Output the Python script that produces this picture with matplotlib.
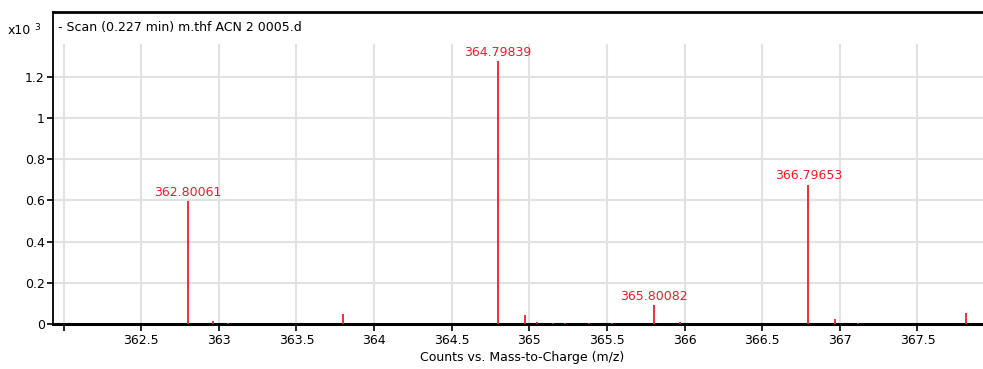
import matplotlib
matplotlib.use("Agg")
import matplotlib.pyplot as plt
import numpy as np

# Peak list (m/z, counts in units of 10^3)
mz = [362.80061, 362.962, 363.059, 363.797, 364.79839, 364.970, 365.050,
      365.150, 365.230, 365.385, 365.530, 365.80082, 365.970, 366.79653,
      366.970, 367.115, 367.815]
counts = [0.598, 0.015, 0.007, 0.048, 1.278, 0.046, 0.012,
          0.006, 0.006, 0.006, 0.006, 0.092, 0.008, 0.677,
          0.022, 0.006, 0.055]
labeled = [362.80061, 364.79839, 365.80082, 366.79653]

x_ticks = [362.0, 362.5, 363.0, 363.5, 364.0, 364.5, 365.0, 365.5,
           366.0, 366.5, 367.0, 367.5]
x_tick_labels = ["", "362.5", "363", "363.5", "364", "364.5", "365",
                 "365.5", "366", "366.5", "367", "367.5"]
y_ticks = [0, 0.2, 0.4, 0.6, 0.8, 1.0, 1.2]
y_tick_labels = ["0", "0.2", "0.4", "0.6", "0.8", "1", "1.2"]

title = "- Scan (0.227 min) m.thf ACN 2 0005.d"
xlabel = "Counts vs. Mass-to-Charge (m/z)"

W, H = 983, 369
fig = plt.figure(figsize=(W / 100, H / 100), dpi=100)
plt.rcParams['font.family'] = ['DejaVu Sans']

left_px, right_px, top_px, bottom_px = 53, 992, 12, 324
ax = fig.add_axes([left_px / W, (H - bottom_px) / H,
                   (right_px - left_px) / W, (bottom_px - top_px) / H])

ax.set_xlim(361.932, 367.98)
ax.set_ylim(0, 1.5146)

grid_c = "#e2e2e2"
grid_top = 1.355
for xt in x_ticks:
    ax.plot([xt, xt], [0, grid_top], color=grid_c, lw=1.5, zorder=0)
for yt in y_ticks[1:]:
    ax.axhline(yt, color=grid_c, lw=1.5, zorder=0)

red = "#f21c24"
ax.vlines(mz, 0, counts, color=red, lw=1.3, zorder=3)
for m, c in zip(mz, counts):
    if m in labeled:
        ax.annotate(f"{m:.5f}", (m, c), xytext=(0, 1.5), textcoords="offset points",
                    ha="center", va="bottom", color=red, fontsize=9, zorder=4)

ax.set_xticks(x_ticks)
ax.set_xticklabels(x_tick_labels)
ax.set_yticks(y_ticks)
ax.set_yticklabels(y_tick_labels)
ax.tick_params(axis="x", length=5, width=1.2, pad=2, labelsize=9, colors="black")
ax.tick_params(axis="y", length=4, width=1.2, pad=2, labelsize=9, colors="black")

ax.spines["top"].set_linewidth(2.0)
ax.spines["bottom"].set_linewidth(2.2)
ax.spines["left"].set_linewidth(1.3)
ax.spines["right"].set_visible(False)
for s in ax.spines.values():
    s.set_color("black")

ax.set_xlabel(xlabel, fontsize=9, labelpad=3)

fig.text(58 / W, 1 - 28 / H, title, fontsize=9, va="center", ha="left")
fig.text(8 / W, 1 - 31 / H, "x10", fontsize=9, va="center", ha="left")
fig.text(34 / W, 1 - 27 / H, "3", fontsize=6.5, va="center", ha="left")

fig.savefig("out.png", dpi=100)
